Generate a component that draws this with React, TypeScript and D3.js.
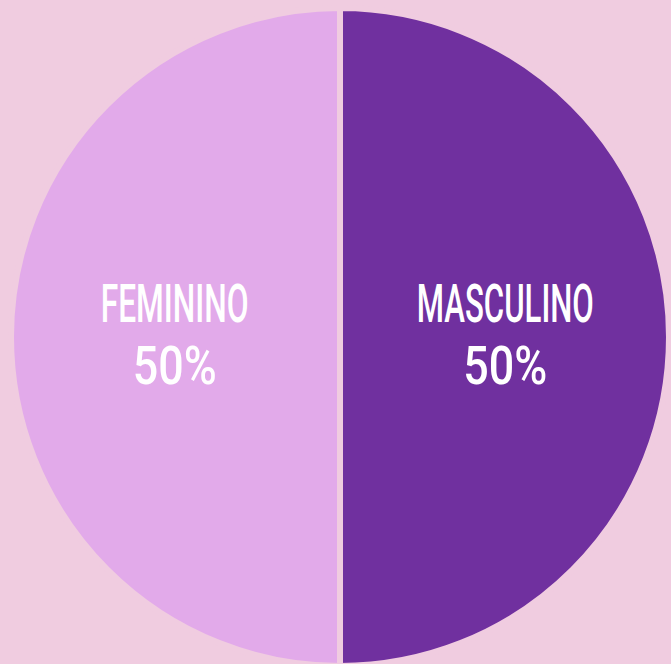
import React from "react";
import * as d3 from "d3";

const categories = ["FEMININO", "MASCULINO"];
const values = [50, 50];
const labels = ["50%", "50%"];
const colors = ["#e2aaea", "#70309f"];

const W = 671;
const H = 664;
const BG = "#f0cce0";

export default function App() {
  const cx = 340;
  const cy = 337;
  const r = 329;
  const data = categories.map((c, i) => ({ c, v: values[i], l: labels[i], col: colors[i] }));
  const pie = d3.pie<any>().value((d) => d.v).sort(null).startAngle(0).endAngle(2 * Math.PI);
  // order: MASCULINO on right (0..PI), FEMININO on left (PI..2PI)
  const arcs = pie([data[1], data[0]]);
  const arc = d3.arc<any>().innerRadius(0).outerRadius(r);
  const widths: Record<string, number> = { FEMININO: 148, MASCULINO: 177 };
  return (
    <svg width={W} height={H} style={{ position: "absolute", left: 0, top: 0, background: BG }}>
      <rect width={W} height={H} fill={BG} />
      <g transform={`translate(${cx},${cy})`}>
        {arcs.map((a, i) => (
          <path key={i} d={arc(a) as string} fill={a.data.col} stroke={BG} strokeWidth={6} />
        ))}
        {arcs.map((a, i) => {
          const [x] = arc.centroid(a);
          const tx = x * 1.005;
          return (
            <g key={"t" + i} fill="#ffffff" fontFamily="Roboto, sans-serif" fontWeight={500} fontSize={53} textAnchor="middle">
              <text x={tx} y={-15} textLength={widths[a.data.c]} lengthAdjust="spacingAndGlyphs">
                {a.data.c}
              </text>
              <text x={tx} y={47} textLength={84} lengthAdjust="spacingAndGlyphs">
                {a.data.l}
              </text>
            </g>
          );
        })}
      </g>
    </svg>
  );
}
